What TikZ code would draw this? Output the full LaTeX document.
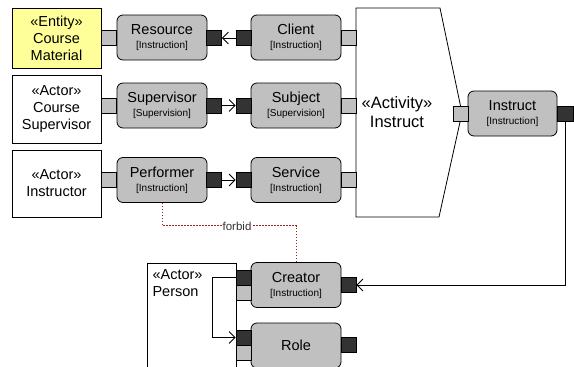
\documentclass[tikz,border=0pt]{standalone}
\usepackage{fontspec}
\setmainfont{Liberation Sans}
\usetikzlibrary{arrows.meta}
\usetikzlibrary{positioning}

\definecolor{rolegray}{RGB}{192,192,192}
\definecolor{portdark}{RGB}{51,51,51}
\definecolor{entityyellow}{RGB}{255,255,153}
\definecolor{forbidred}{RGB}{160,32,32}

\newcommand{\roleof}[1]{{\fontsize{10}{12}\selectfont[#1]}}

\tikzset{
  actorbox/.style={draw,line width=0.8pt,minimum width=89pt,align=center,font=\fontsize{14.5}{17}\selectfont},
  rolebox/.style={draw,fill=rolegray,rounded corners=6pt,line width=0.8pt,minimum width=90pt,minimum height=45pt,align=center,font=\fontsize{14.5}{14}\selectfont},
  lightport/.style={draw,fill=rolegray,line width=0.8pt,minimum width=15pt,minimum height=15pt,inner sep=0pt},
  darkport/.style={lightport,fill=portdark},
  link/.style={line width=0.8pt,-{Straight Barb[length=6pt,width=12pt]}},
  forbidlink/.style={forbidred,dash pattern=on 1.5pt off 1.5pt,line width=0.9pt}
}

\begin{document}
\begin{tikzpicture}[x=1pt,y=-1pt]
\useasboundingbox (0,0) rectangle (574,367);

% actors
\node[actorbox,fill=entityyellow,minimum height=60pt] (material) at (56.5,38) {«Entity»\\Course\\Material};
\node[actorbox,minimum height=68pt] (supervisor) at (56.5,109) {«Actor»\\Course\\Supervisor};
\node[actorbox,minimum height=67pt] (instructor) at (56.5,183.5) {«Actor»\\Instructor};
\node[draw,line width=0.8pt,anchor=north west,minimum width=89pt,minimum height=112pt] (person) at (147,263) {};
\node[anchor=north west,align=left,font=\fontsize{14.5}{17}\selectfont] (persontext) at (149,266) {«Actor»\\Person};

% activity
\draw[line width=0.8pt,fill=white] (356,8) -- (440,8) -- (462,113) -- (439,217) -- (356,217) -- cycle;
\node[align=center,font=\fontsize{16.5}{19}\selectfont] (activity) at (397,112) {«Activity»\\Instruct};

% roles
\node[rolebox] (resource) at (162,37.5) {Resource\\\roleof{Instruction}};
\node[rolebox] (client) at (296,37.5) {Client\\\roleof{Instruction}};
\node[rolebox] (supervision) at (162,105.5) {Supervisor\\\roleof{Supervision}};
\node[rolebox] (subject) at (296,105.5) {Subject\\\roleof{Supervision}};
\node[rolebox] (performer) at (162,180) {Performer\\\roleof{Instruction}};
\node[rolebox] (service) at (296,180) {Service\\\roleof{Instruction}};
\node[rolebox,minimum width=89pt] (instruct) at (512.5,113.5) {Instruct\\\roleof{Instruction}};
\node[rolebox] (creator) at (296,285) {Creator\\\roleof{Instruction}};
\node[rolebox] (role) at (296,345.5) {Role};

% ports
\node[lightport] (resource-l) at (109,38) {};
\node[darkport] (resource-r) at (214,38) {};
\node[darkport] (client-l) at (243.5,38) {};
\node[lightport] (client-r) at (348.5,38) {};
\node[lightport] (supervision-l) at (109,105.5) {};
\node[darkport] (supervision-r) at (214,105.5) {};
\node[darkport] (subject-l) at (243.5,105.5) {};
\node[lightport] (subject-r) at (348.5,105.5) {};
\node[lightport] (performer-l) at (109,180) {};
\node[darkport] (performer-r) at (214,180) {};
\node[darkport] (service-l) at (243.5,180) {};
\node[lightport] (service-r) at (348.5,180) {};
\node[lightport] (instruct-l) at (460.5,113.5) {};
\node[darkport,minimum width=16pt] (instruct-r) at (565.5,113.5) {};
\node[darkport] (creator-l) at (243.5,277.5) {};
\node[lightport] (creator-l2) at (243.5,292.5) {};
\node[darkport] (creator-r) at (348.5,285) {};
\node[darkport] (role-l) at (243.5,337.5) {};
\node[lightport] (role-l2) at (243.5,352.5) {};
\node[darkport] (role-r) at (348.5,344.5) {};

% connectors
\draw[link] (client-l.west) -- (resource-r.east);
\draw[link] (supervision-r.east) -- (subject-l.west);
\draw[link] (performer-r.east) -- (service-l.west);
\draw[link] (instruct-r.south) |- (creator-r.east);
\draw[link] (creator-l.west) -- ++(-23,0) |- (role-l.west);
\draw[forbidlink] (performer.south) -- ++(0,23) -| node[pos=0.28,fill=white,text=black!80,inner sep=1pt,font=\fontsize{11.5}{13}\selectfont] (forbid) {forbid} (creator.north);

\end{tikzpicture}
\end{document}
